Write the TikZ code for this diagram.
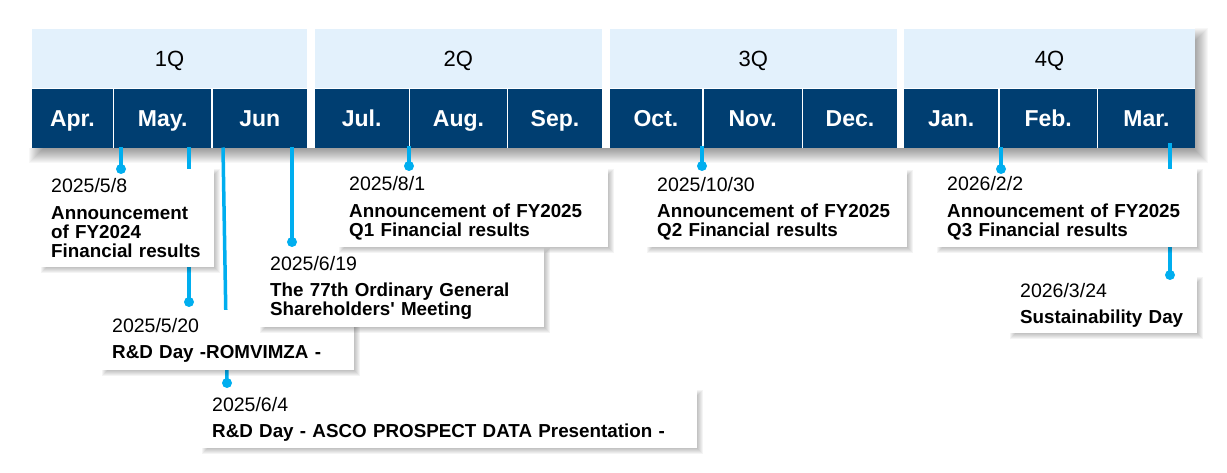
\documentclass[tikz,border=0pt]{standalone}
\usepackage{fontspec}
\setmainfont{Liberation Sans}[Ligatures=TeXOff]
\definecolor{navy}{HTML}{003E71}
\definecolor{qlight}{HTML}{E3F1FC}
\definecolor{tlcyan}{HTML}{00AEEF}
\pgfdeclarelayer{back}
\pgfdeclarelayer{lines}
\pgfsetlayers{back,lines,main}
\newcommand\boxshadow[4]{\foreach \k in {0,...,6}{\fill[black,opacity=0.045] ({#1+\k},{#2+\k}) rectangle ({#3+6-\k},{#4+6-\k});}}
\newcommand\evdate[1]{{\fontsize{19.5}{19}\selectfont\mdseries #1}\\[7.5pt]}
\begin{document}
\begin{tikzpicture}[x=1pt,y=-1pt,
  qbox/.style={fill=qlight, inner sep=0pt, minimum height=58.5pt, anchor=north west, text height=16pt, text depth=0.5pt, font=\fontsize{22}{24}\selectfont},
  mbox/.style={fill=navy, text=white, inner sep=0pt, minimum height=59pt, anchor=north west, text height=17pt, text depth=2pt, font=\bfseries\fontsize{23}{25}\selectfont},
  evbox/.style={fill=white, anchor=north west, inner xsep=10pt, inner ysep=0pt, align=left, font=\fontsize{18.8}{19}\selectfont},
  evdot/.style={circle, fill=tlcyan, inner sep=0pt, minimum size=10pt},
  evline/.style={draw=tlcyan, line width=3.5pt}]
\useasboundingbox (0,0) rectangle (1227,473);

% ---------- header ----------
\begin{pgfonlayer}{back}
\foreach \k in {0,...,16}{\fill[black,opacity=0.03] ({29+\k},{28+\k}) rectangle ({1207.5-\k},{163-\k});}
\fill[white] (20,20) rectangle (1194.5,148.5);
\node[qbox, minimum width=274.5pt] (q1) at (32,29) {1Q};
\node[qbox, minimum width=287pt] (q2) at (314.5,29) {2Q};
\node[qbox, minimum width=287pt] (q3) at (609.5,29) {3Q};
\node[qbox, minimum width=290.5pt] (q4) at (904,29) {4Q};
\node[mbox, minimum width=80.5pt] (apr) at (32,89) {Apr.};
\node[mbox, minimum width=97pt] (may) at (114,89) {May.};
\node[mbox, minimum width=94pt] (jun) at (212.5,89) {Jun};
\node[mbox, minimum width=94pt] (jul) at (314.5,89) {Jul.};
\node[mbox, minimum width=96.5pt] (aug) at (410,89) {Aug.};
\node[mbox, minimum width=93.5pt] (sep) at (508,89) {Sep.};
\node[mbox, minimum width=92.5pt] (oct) at (609.5,89) {Oct.};
\node[mbox, minimum width=98pt] (nov) at (703.5,89) {Nov.};
\node[mbox, minimum width=93.5pt] (dec) at (803,89) {Dec.};
\node[mbox, minimum width=94pt] (jan) at (904,89) {Jan.};
\node[mbox, minimum width=97pt] (feb) at (999.5,89) {Feb.};
\node[mbox, minimum width=96.5pt] (mar) at (1098,89) {Mar.};
\end{pgfonlayer}

% ---------- event boxes ----------
\boxshadow{41}{169}{214}{267}
\node[evbox, minimum width=173pt, text width=153pt, minimum height=98pt] (bA) at (41,169)
  {\evdate{2025/5/8}\bfseries Announcement\\of FY2024\\Financial results};
\boxshadow{102}{310}{354}{370}
\node[evbox, minimum width=252pt, text width=232pt, minimum height=60pt] (bB) at (102,310)
  {\evdate{2025/5/20}\bfseries R\&D Day -ROMVIMZA -};
\boxshadow{202}{390}{697}{448}
\node[evbox, minimum width=495pt, text width=475pt, minimum height=58pt] (bC) at (202,390)
  {\evdate{2025/6/4}\bfseries R\&D Day - ASCO PROSPECT DATA Presentation -};
\boxshadow{260}{248}{544}{327}
\node[evbox, minimum width=284pt, text width=264pt, minimum height=79pt] (bD) at (260,248)
  {\evdate{2025/6/19}\bfseries The 77th Ordinary General\\Shareholders' Meeting};
\boxshadow{339}{169}{608}{247}
\node[evbox, minimum width=269pt, text width=249pt, minimum height=78pt] (bE) at (339,169)
  {\evdate{2025/8/1}\bfseries Announcement of FY2025\\Q1 Financial results};
\boxshadow{647}{170}{907}{247}
\node[evbox, minimum width=260pt, text width=240pt, minimum height=77pt] (bF) at (647,170)
  {\evdate{2025/10/30}\bfseries Announcement of FY2025\\Q2 Financial results};
\boxshadow{937}{169}{1197}{247}
\node[evbox, minimum width=260pt, text width=240pt, minimum height=78pt] (bG) at (937,169)
  {\evdate{2026/2/2}\bfseries Announcement of FY2025\\Q3 Financial results};
\boxshadow{1010}{277}{1197}{333}
\node[evbox, minimum width=187pt, text width=167pt, minimum height=56pt] (bH) at (1010,277)
  {\evdate{2026/3/24}\bfseries Sustainability Day};

% ---------- dots ----------
\node[evdot] (dA) at (121,169) {};
\node[evdot] (dB) at (189,302) {};
\node[evdot] (dC) at (227,383) {};
\node[evdot] (dD) at (292,242) {};
\node[evdot] (dE) at (409,166) {};
\node[evdot] (dF) at (702,166) {};
\node[evdot] (dG) at (1001,169) {};
\node[evdot] (dH) at (1170,275) {};

% ---------- connectors ----------
\coordinate (tA) at (121,147.5);
\coordinate (tB) at (189,147.5);
\coordinate (tC) at (223,147.5);
\coordinate (tD) at (292,147.5);
\coordinate (tE) at (409,146);
\coordinate (tF) at (702,146);
\coordinate (tG) at (1001,147.5);
\coordinate (tH) at (1170,143);
\begin{pgfonlayer}{lines}
\draw[evline] (tA) -- (dA.center);
\draw[evline] (tB) -- (dB.center);
\draw[evline] (tC) -- (dC.center);
\draw[evline] (tD) -- (dD.center);
\draw[evline] (tE) -- (dE.center);
\draw[evline] (tF) -- (dF.center);
\draw[evline] (tG) -- (dG.center);
\draw[evline] (tH) -- (dH.center);
\end{pgfonlayer}
\end{tikzpicture}
\end{document}
